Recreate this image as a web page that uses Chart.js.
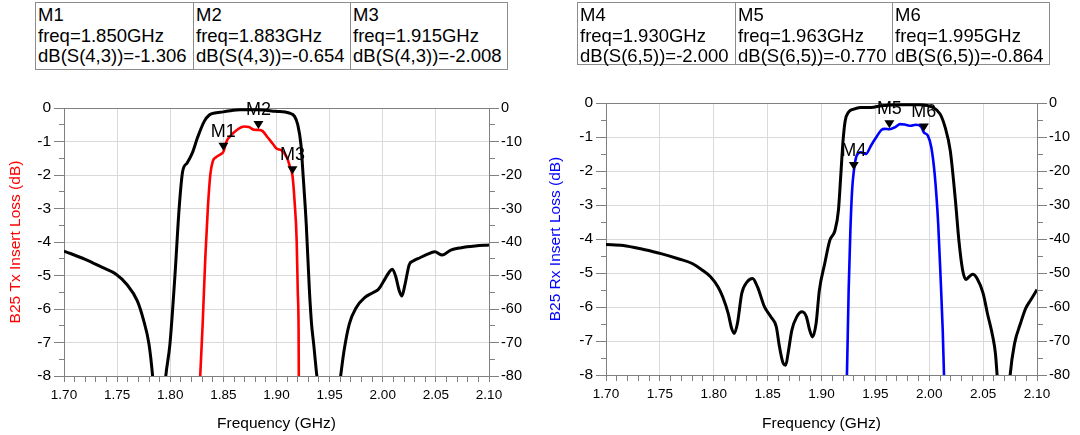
<!DOCTYPE html>
<html>
<head>
<meta charset="utf-8">
<script src="https://cdn.jsdelivr.net/npm/chart.js@4.4.1/dist/chart.umd.min.js"></script>
<style>
  html, body { margin: 0; padding: 0; background: #fff; }
  body { width: 1080px; height: 435px; position: relative; overflow: hidden;
         font-family: "Liberation Sans", Arial, sans-serif; }
  canvas { position: absolute; top: 0; }
  #txChart { left: 0; }
  #rxChart { left: 540px; }
  .mk { position: absolute; top: 2px; display: flex; border: 1px solid #8c8c8c; background: #fff; z-index: 2; }
  .mk div { width: 157px; box-sizing: border-box; border-left: 1px solid #8c8c8c; font-size: 18.5px;
            line-height: 20.5px; padding: 2px 0 0 2px; color: #000; white-space: nowrap; }
  .mk div:first-child { border-left: none; }
</style>
</head>
<body>
<div id="txTable" class="mk" style="left:35px;height:66px"></div>
<div id="rxTable" class="mk" style="left:577px;height:61px"></div>
<canvas id="txChart" width="540" height="435"></canvas>
<canvas id="rxChart" width="540" height="435"></canvas>
<script>
// ---- data ----
// Tx side: wideband response (right axis, dB) and passband S(4,3) (left axis, dB)
const txWideFreq = [1.700, 1.720, 1.736, 1.749, 1.759, 1.769, 1.775, 1.780, 1.7834, 1.787, 1.792, 1.7958,
  1.7997, 1.8045, 1.8084, 1.8117, 1.8159, 1.8208, 1.8256, 1.832, 1.837, 1.842, 1.847, 1.853, 1.866,
  1.882, 1.899, 1.912, 1.917, 1.920, 1.923, 1.925, 1.928, 1.931, 1.933, 1.935, 1.938, 1.945, 1.955,
  1.9604, 1.9636, 1.9685, 1.975, 1.983, 1.991, 1.996, 2.001, 2.0058, 2.009, 2.012, 2.0156, 2.018,
  2.021, 2.025, 2.0286, 2.035, 2.0416, 2.049, 2.056, 2.064, 2.074, 2.087, 2.100];
const txWideDb = [-42.7, -45.2, -47.6, -49.6, -52.6, -57.6, -63.5, -70.5, -80, -95, -95, -80,
  -70.5, -49.6, -29.8, -18.9, -16.4, -13.4, -8.9, -4.0, -2.0, -1.5, -1.3, -1.0, -0.5,
  -0.5, -1.0, -1.5, -2.5, -5.0, -10.9, -19.9, -34.7, -54.6, -64.5, -70.5, -80, -95, -95,
  -80, -72.4, -64.5, -59.6, -56.6, -55.1, -54.1, -51.6, -49.1, -48.1, -50.1, -54.6, -56.1,
  -52.6, -46.7, -45.7, -44.7, -43.7, -42.9, -43.9, -42.4, -41.7, -41.2, -40.9];
const txFreq = [1.826, 1.8282, 1.8305, 1.833, 1.8354, 1.8377, 1.840, 1.843, 1.847, 1.850, 1.853, 1.8565,
  1.863, 1.8695, 1.874, 1.879, 1.883, 1.887, 1.892, 1.897, 1.900, 1.905, 1.910, 1.913, 1.915, 1.917,
  1.919, 1.920, 1.9208, 1.921, 1.9225];
const txDb = [-9.5, -8, -6.45, -4.47, -2.98, -1.99, -1.59, -1.47, -1.39, -1.306, -0.99, -0.84,
  -0.65, -0.55, -0.57, -0.65, -0.654, -0.69, -0.89, -1.09, -1.21, -1.27, -1.49, -1.79, -2.008, -2.78,
  -3.97, -5.46, -6.65, -8, -9.5];

// Rx side: wideband response (right axis, dB) and passband S(6,5) (left axis, dB)
const rxWideFreq = [1.700, 1.716, 1.735, 1.751, 1.767, 1.780, 1.7895, 1.797, 1.804, 1.8083, 1.8134, 1.8166,
  1.819, 1.822, 1.826, 1.831, 1.836, 1.8406, 1.847, 1.853, 1.858, 1.861, 1.8645, 1.8668, 1.869, 1.8725,
  1.877, 1.882, 1.886, 1.889, 1.8917, 1.895, 1.898, 1.903, 1.9077, 1.9125, 1.9157, 1.918, 1.920, 1.922,
  1.925, 1.930, 1.936, 1.946, 1.9556, 1.975, 1.9907, 2.0035, 2.010, 2.0147, 2.0195, 2.0243, 2.0275,
  2.031, 2.034, 2.037, 2.0403, 2.0444, 2.050, 2.054, 2.059, 2.0614, 2.063, 2.067, 2.072, 2.0751, 2.0792,
  2.0847, 2.0895, 2.094, 2.100];
const rxWideDb = [-41.6, -41.9, -43.1, -44.3, -45.8, -47.2, -49.2, -51.1, -54.1, -57.0, -61.9, -66.3,
  -67.8, -64.8, -56.0, -52.6, -51.6, -54.1, -59.9, -62.9, -65.8, -71.7, -76.6, -77.1, -73.6, -66.8,
  -62.9, -61.4, -62.9, -66.8, -68.8, -64.8, -55.1, -47.2, -40.4, -37.5, -31.6, -20.8, -11.1, -5.2,
  -2.7, -1.8, -1.3, -1.3, -0.8, -0.5, -0.5, -1.3, -3.2, -7.1, -14.0, -28.7, -40.4,
  -49.2, -51.9, -51.1, -50.4, -51.6, -56.0, -61.9, -68.8, -73.6, -80, -95, -95, -80, -70.7,
  -64.8, -60.4, -58.0, -54.9];
const rxFreq = [1.922, 1.9236, 1.9252, 1.9268, 1.9284, 1.930, 1.9326, 1.9364, 1.9412, 1.946, 1.9508,
  1.9556, 1.9588, 1.963, 1.9684, 1.973, 1.978, 1.9827, 1.9875, 1.9923, 1.995, 1.9987, 2.0019, 2.005,
  2.0083, 2.0105, 2.0125, 2.0137, 2.0155];
const rxDb = [-9.5, -8, -5.51, -3.75, -2.57, -2.0, -1.55, -1.45, -1.50, -1.25, -1.01,
  -0.79, -0.76, -0.77, -0.71, -0.62, -0.64, -0.67, -0.64, -0.69, -0.864, -0.96, -1.30, -2.08,
  -3.55, -5.11, -6.68, -8, -9.5];

// markers
const txMarkNames = ["M1", "M2", "M3"];
const txMarkFreq = [1.850, 1.883, 1.915];
const txMarkDb = [-1.306, -0.654, -2.008];
const rxMarkNames = ["M4", "M5", "M6"];
const rxMarkFreq = [1.930, 1.963, 1.995];
const rxMarkDb = [-2.000, -0.770, -0.864];

// axis ranges
const freqMin = 1.70, freqMax = 2.10;
const lossMin = -8, lossMax = 0;
const wideMin = -80, wideMax = 0;

const FONT = "'Liberation Sans', Arial, sans-serif";

//------------------------------------------------------------------------
function fillTable(id, names, freqs, dbs, param) {
  const box = document.getElementById(id);
  for (let i = 0; i < names.length; i++) {
    const cell = document.createElement("div");
    cell.innerHTML = names[i] + "<br>freq=" + freqs[i].toFixed(3) + "GHz<br>dB(" + param + ")=" + dbs[i].toFixed(3);
    box.appendChild(cell);
  }
}

fillTable("txTable", txMarkNames, txMarkFreq, txMarkDb, "S(4,3)");
fillTable("rxTable", rxMarkNames, rxMarkFreq, rxMarkDb, "S(6,5)");

function toPoints(xs, ys) {
  return xs.map((x, i) => ({ x: x, y: ys[i] }));
}

// box round the plot + marker triangles and names
const markerPlugin = {
  id: "markers",
  beforeDatasetsDraw(chart) {
    const a = chart.chartArea;
    const ctx = chart.ctx;
    ctx.save();
    ctx.strokeStyle = "#808080";
    ctx.lineWidth = 1;
    ctx.strokeRect(Math.round(a.left) + 0.5, Math.round(a.top) + 0.5,
      Math.round(a.right - a.left), Math.round(a.bottom - a.top));
    ctx.restore();
  },
  afterDatasetsDraw(chart, args, opts) {
    const ctx = chart.ctx;
    const xs = chart.scales.x;
    const ys = chart.scales.y;
    ctx.save();
    ctx.fillStyle = "#000";
    ctx.font = "18px " + FONT;
    ctx.textAlign = "center";
    ctx.textBaseline = "middle";
    for (let i = 0; i < opts.names.length; i++) {
      const px = xs.getPixelForValue(opts.freq[i]);
      const py = ys.getPixelForValue(opts.db[i]);
      ctx.beginPath();
      ctx.moveTo(px, py - 1);
      ctx.lineTo(px - 5, py - 9);
      ctx.lineTo(px + 5, py - 9);
      ctx.closePath();
      ctx.fill();
      ctx.fillText(opts.names[i], px, py - 20);
    }
    ctx.restore();
  },
};

function buildChart(canvasId, wideX, wideY, passX, passY, passColor, title, marks, area) {
  const isMajorX = (v) => Math.round(v * 100) % 5 === 0;
  return new Chart(document.getElementById(canvasId), {
    type: "line",
    data: {
      datasets: [
        {
          data: toPoints(passX, passY),
          yAxisID: "y",
          borderColor: passColor,
          borderWidth: 2.6,
          pointRadius: 0,
          cubicInterpolationMode: "monotone",
          clip: 0,
        },
        {
          data: toPoints(wideX, wideY),
          yAxisID: "y2",
          borderColor: "#000",
          borderWidth: 3,
          pointRadius: 0,
          cubicInterpolationMode: "monotone",
          clip: 0,
        },
      ],
    },
    options: {
      responsive: false,
      animation: false,
      layout: { padding: { top: area.top, left: 0, right: 0, bottom: 0 } },
      plugins: {
        legend: { display: false },
        tooltip: { enabled: false },
        markers: marks,
      },
      scales: {
        x: {
          type: "linear",
          min: freqMin,
          max: freqMax,
          afterFit: (s) => { s.height = area.xHeight; },
          border: { color: "#808080" },
          grid: {
            color: (c) => (c.tick && isMajorX(c.tick.value) ? "#d9d9d9" : "rgba(0,0,0,0)"),
            tickColor: "#808080",
            tickLength: 6,
          },
          ticks: {
            stepSize: 0.01,
            autoSkip: false,
            maxRotation: 0,
            padding: 5,
            color: "#000",
            font: { family: FONT, size: 13.5 },
            callback: (v) => (isMajorX(v) ? v.toFixed(2) : ""),
          },
          title: {
            display: true,
            text: "Frequency (GHz)",
            color: "#000",
            font: { family: FONT, size: 15.5 },
            padding: { top: 0, bottom: 2 },
          },
        },
        y: {
          position: "left",
          min: lossMin,
          max: lossMax,
          afterFit: (s) => { s.width = area.yWidth; },
          border: { color: "#808080" },
          grid: {
            color: (c) => (c.tick && Number.isInteger(c.tick.value) ? "#d9d9d9" : "rgba(0,0,0,0)"),
            tickColor: "#808080",
            tickLength: 10,
            tickBorderDash: (c) => (c.tick && Number.isInteger(c.tick.value) ? [] : [0, 5, 5, 100]),
          },
          ticks: {
            stepSize: 0.5,
            autoSkip: false,
            padding: 3,
            color: "#000",
            font: { family: FONT, size: 15.5 },
            callback: (v) => (Number.isInteger(v) ? String(v) : ""),
          },
          title: {
            display: true,
            text: title,
            color: passColor,
            font: { family: FONT, size: 15.5 },
            padding: { top: 6, bottom: 0 },
          },
        },
        y2: {
          position: "right",
          min: wideMin,
          max: wideMax,
          afterFit: (s) => { s.width = area.y2Width; },
          border: { color: "#808080" },
          grid: {
            drawOnChartArea: false,
            tickColor: "#808080",
            tickLength: 10,
            tickBorderDash: (c) => (c.tick && Math.round(c.tick.value) % 10 === 0 ? [] : [5, 100]),
          },
          ticks: {
            stepSize: 5,
            autoSkip: false,
            padding: 2,
            color: "#000",
            font: { family: FONT, size: 14.5 },
            callback: (v) => (Math.round(v) % 10 === 0 ? String(v) : ""),
          },
        },
      },
    },
    plugins: [markerPlugin],
  });
}

buildChart("txChart", txWideFreq, txWideDb, txFreq, txDb, "#ff0000", "B25 Tx Insert Loss (dB)",
  { names: txMarkNames, freq: txMarkFreq, db: txMarkDb },
  { top: 108, xHeight: 59, yWidth: 64, y2Width: 51 });

buildChart("rxChart", rxWideFreq, rxWideDb, rxFreq, rxDb, "#0000ff", "B25 Rx Insert Loss (dB)",
  { names: rxMarkNames, freq: rxMarkFreq, db: rxMarkDb },
  { top: 103, xHeight: 60, yWidth: 66, y2Width: 43 });
</script>
</body>
</html>
